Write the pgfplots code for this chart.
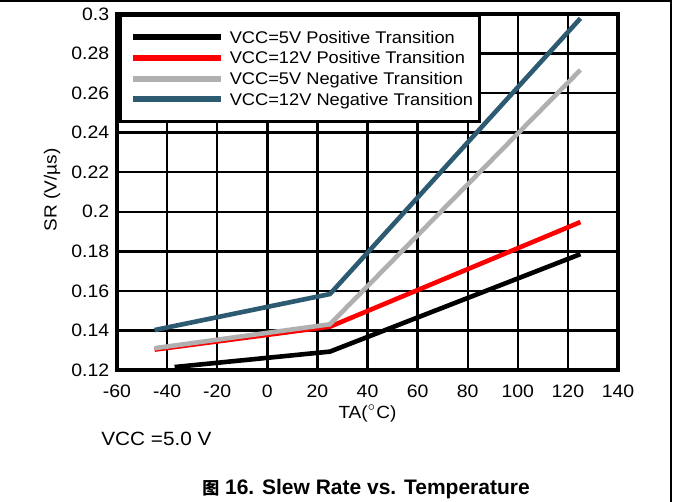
\documentclass[border=0pt]{standalone}
\usepackage{fontspec}
\setmainfont{Liberation Sans}[FakeStretch=1.08]
\newfontfamily\titlefont{Liberation Sans}
\newfontfamily\cjk{Noto Sans CJK SC}
\usepackage{pgfplots}
\pgfplotsset{compat=1.18}

\definecolor{tiblue}{RGB}{44,90,113}
\definecolor{tigray}{RGB}{176,176,176}

\begin{document}
\begin{tikzpicture}
  \useasboundingbox (0,0) rectangle (336.5pt,251pt);
  \draw[line width=0.85pt] (0,250.6pt) -- (335.35pt,250.6pt) -- (335.35pt,0);

  \begin{axis}[
    at={(58.5pt,66pt)}, anchor=south west,
    width=250.5pt, height=178pt, scale only axis,
    xmin=-60, xmax=140, ymin=0.12, ymax=0.3,
    xtick={-60,-40,-20,0,20,40,60,80,100,120,140},
    ytick={0.12,0.14,0.16,0.18,0.2,0.22,0.24,0.26,0.28,0.3},
    major tick length=0pt,
    grid=major,
    major grid style={black, line width=1.2pt},
    axis line style={black, line width=1.7pt},
    /pgf/number format/assume math mode=true,
    tick label style={font=\fontsize{9}{10}\selectfont},
    yticklabel style={anchor=east, inner sep=0pt, xshift=-3.7pt},
    xticklabel style={anchor=north, inner sep=0pt, yshift=-7.1pt},
    xlabel={TA($^{\circ}$C)},
    xlabel style={at={(axis description cs:0.5,-0.1215)}, anchor=center, inner sep=0pt, font=\fontsize{8.8}{10}\selectfont},
    ylabel={SR (V/µs)},
    ylabel style={at={(axis description cs:-0.1297,0.5056)}, anchor=center, inner sep=0pt, font=\fontsize{8.8}{10}\selectfont},
    legend cell align=left,
    legend image code/.code={\path (0pt,0pt); \draw[#1, line width=3pt] (2pt,0pt) -- (46pt,0pt);},
    legend style={at={(0,1)}, anchor=north west, xshift=1pt,
      draw=black, line width=1.5pt, fill=white,
      inner xsep=3pt, inner ysep=7.85pt, row sep=4.3pt, column sep=3pt,
      font=\fontsize{8.45}{10}\selectfont,
      nodes={inner sep=0pt, text height=6.05pt, text depth=0pt}},
  ]
    \addplot[black, line width=2.3pt] coordinates {(-37,0.1215) (25,0.1293) (125,0.1786)};
    \addlegendentry{VCC=5V Positive Transition}
    \addplot[red, line width=2.3pt] coordinates {(-45,0.1303) (25,0.1419) (125,0.1948)};
    \addlegendentry{VCC=12V Positive Transition}
    \addplot[tigray, line width=2.3pt] coordinates {(-45,0.1310) (25,0.1431) (125,0.2717)};
    \addlegendentry{VCC=5V Negative Transition}
    \addplot[tiblue, line width=2.3pt] coordinates {(-45,0.1402) (25,0.1584) (125,0.2978)};
    \addlegendentry{VCC=12V Negative Transition}
  \end{axis}

  \node[anchor=base west, inner sep=0pt, font=\fontsize{9.6}{11}\selectfont] at (50.5pt,28pt) {VCC =5.0 V};
  \node[anchor=base, inner sep=0pt, font=\titlefont\bfseries\fontsize{10.5}{12}\selectfont] at (183pt,3.75pt)
    {{\cjk\bfseries\fontsize{8.5}{10}\selectfont 图} 16. Slew Rate vs. Temperature};
\end{tikzpicture}
\end{document}
